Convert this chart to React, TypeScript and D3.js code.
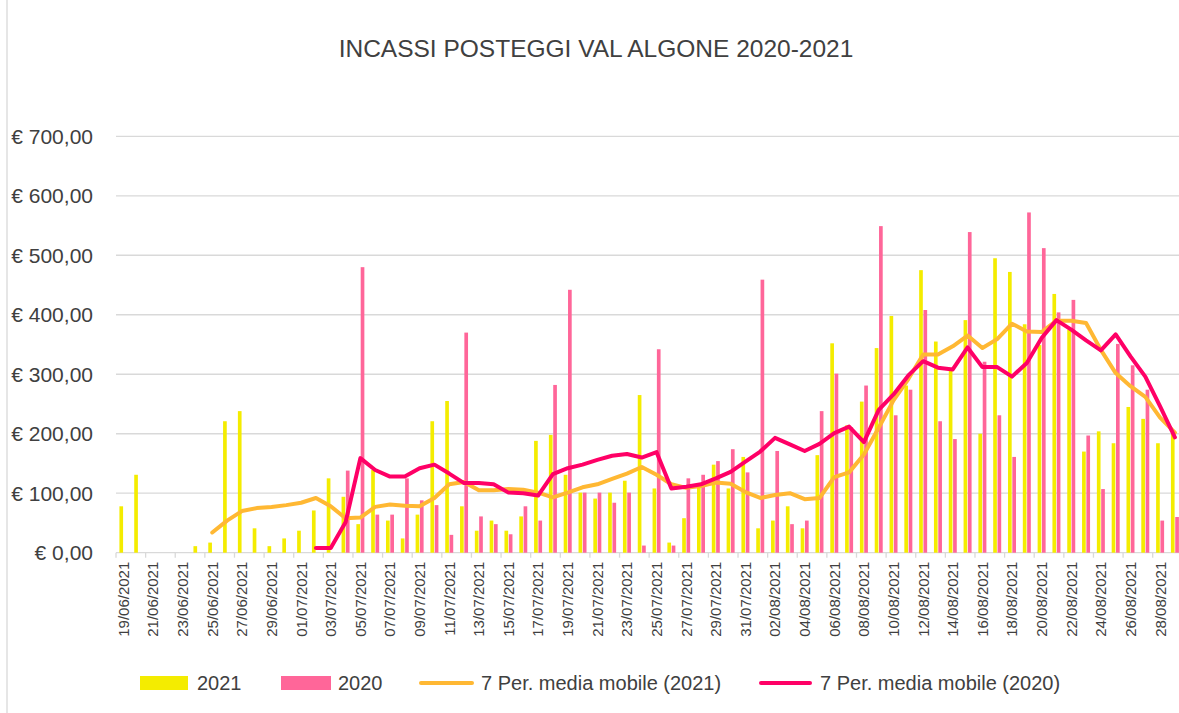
import React, { useEffect, useRef } from 'react';
import * as d3 from 'd3';

// giorni della stagione (asse categorie)
const giorni = [
  '19/06/2021', '20/06/2021', '21/06/2021', '22/06/2021', '23/06/2021', '24/06/2021',
  '25/06/2021', '26/06/2021', '27/06/2021', '28/06/2021', '29/06/2021', '30/06/2021',
  '01/07/2021', '02/07/2021', '03/07/2021', '04/07/2021', '05/07/2021', '06/07/2021',
  '07/07/2021', '08/07/2021', '09/07/2021', '10/07/2021', '11/07/2021', '12/07/2021',
  '13/07/2021', '14/07/2021', '15/07/2021', '16/07/2021', '17/07/2021', '18/07/2021',
  '19/07/2021', '20/07/2021', '21/07/2021', '22/07/2021', '23/07/2021', '24/07/2021',
  '25/07/2021', '26/07/2021', '27/07/2021', '28/07/2021', '29/07/2021', '30/07/2021',
  '31/07/2021', '01/08/2021', '02/08/2021', '03/08/2021', '04/08/2021', '05/08/2021',
  '06/08/2021', '07/08/2021', '08/08/2021', '09/08/2021', '10/08/2021', '11/08/2021',
  '12/08/2021', '13/08/2021', '14/08/2021', '15/08/2021', '16/08/2021', '17/08/2021',
  '18/08/2021', '19/08/2021', '20/08/2021', '21/08/2021', '22/08/2021', '23/08/2021',
  '24/08/2021', '25/08/2021', '26/08/2021', '27/08/2021', '28/08/2021', '29/08/2021'
];

const incassi2021 = [
  78, 131, null, null, null, 11, 17, 221, 238, 41,
  11, 24, 37, 71, 125, 94, 48, 139, 54, 24,
  64, 221, 255, 78, 37, 54, 37, 61, 188, 198,
  131, 101, 91, 101, 121, 265, 108, 17, 58, 111,
  148, 108, 161, 41, 54, 78, 41, 164, 352, 214,
  254, 344, 398, 281, 475, 355, 306, 391, 200, 495,
  472, 384, 349, 435, 375, 170, 204, 184, 245, 225,
  184, 204
];

const incassi2020 = [
  null, null, null, null, null, null, null, null, null, null,
  null, null, null, null, null, 138, 480, 64, 64, 125,
  88, 80, 30, 370, 61, 48, 31, 78, 54, 282,
  442, 101, 101, 84, 101, 12, 342, 12, 125, 131,
  154, 174, 135, 459, 171, 48, 54, 238, 301, 211,
  281, 549, 231, 274, 408, 221, 191, 539, 321, 231,
  161, 572, 512, 404, 425, 197, 107, 351, 315, 274,
  54, 60
];

// 7 Per. media mobile
const media2021 = [
  null, null, null, null, null, null, 34, 54, 70, 75,
  77, 80, 84, 92, 78, 58, 59, 77, 81, 79,
  78, 92, 115, 119, 105, 105, 107, 106, 101, 93,
  101, 110, 115, 124, 133, 144, 131, 115, 109, 112,
  118, 116, 102, 92, 97, 100, 90, 92, 127, 135,
  165, 210, 256, 292, 333, 333, 347, 365, 344, 359,
  385, 372, 371, 390, 390, 386, 341, 302, 280, 262,
  227, 202
];

const media2020 = [
  null, null, null, null, null, null, null, null, null, null,
  null, null, null, 8, 8, 51, 159, 139, 128, 128,
  142, 148, 133, 117, 117, 115, 101, 100, 96, 132,
  142, 148, 156, 163, 166, 160, 169, 108, 111, 115,
  125, 136, 153, 170, 193, 182, 171, 183, 201, 212,
  186, 240, 266, 298, 322, 311, 308, 345, 312, 312,
  296, 319, 361, 391, 375, 357, 340, 367, 330, 296,
  246, 194
];

const yTicks = [0, 100, 200, 300, 400, 500, 600, 700];

const W = 1179;
const H = 713;
const FONT = "'Liberation Sans', Arial, sans-serif";

const App = () => {
  const ref = useRef<SVGSVGElement>(null);

  useEffect(() => {
    document.body.style.margin = '0';
    const svg = d3.select(ref.current);
    svg.selectAll('*').remove();

    const left = 116;
    const step = 14.81;
    const x = d3.scaleBand()
      .domain(giorni)
      .range([left, left + giorni.length * step])
      .padding(0);
    const bw = x.bandwidth();

    const y = d3.scaleLinear()
      .domain([0, 700])
      .range([552.7, 136.3]);

    const serie = d3.scaleBand()
      .domain(['2021', '2020'])
      .range([bw / 2 - 4, bw / 2 + 4])
      .paddingInner(0.15);

    // bordo sinistro dell'area grafico
    svg.append('line')
      .attr('x1', 7).attr('x2', 7)
      .attr('y1', 0).attr('y2', H)
      .attr('stroke', '#d9d9d9')
      .attr('stroke-width', 1.3);

    svg.append('text')
      .attr('x', 596)
      .attr('y', 57)
      .attr('text-anchor', 'middle')
      .attr('font-family', FONT)
      .attr('font-size', 24.5)
      .attr('fill', '#404040')
      .text('INCASSI POSTEGGI VAL ALGONE 2020-2021');

    // griglia
    svg.append('g')
      .selectAll('line')
      .data(yTicks)
      .enter()
      .append('line')
      .attr('x1', left)
      .attr('x2', W)
      .attr('y1', d => y(d))
      .attr('y2', d => y(d))
      .attr('stroke', '#d9d9d9')
      .attr('stroke-width', 1.3);

    svg.append('g')
      .selectAll('text')
      .data(yTicks)
      .enter()
      .append('text')
      .attr('x', 93)
      .attr('y', d => y(d))
      .attr('dy', '0.36em')
      .attr('text-anchor', 'end')
      .attr('font-family', FONT)
      .attr('font-size', 21)
      .attr('fill', '#404040')
      .text(d => '€ ' + d3.format(',.2f')(d).replace('.', ','));

    // tacche asse x ogni 2 giorni
    const tacche = giorni.filter((_, i) => i % 2 === 0);
    svg.append('g')
      .selectAll('line')
      .data(tacche)
      .enter()
      .append('line')
      .attr('x1', d => x(d) as number)
      .attr('x2', d => x(d) as number)
      .attr('y1', y(0))
      .attr('y2', y(0) + 5)
      .attr('stroke', '#d9d9d9')
      .attr('stroke-width', 1.3);

    svg.append('g')
      .selectAll('text')
      .data(tacche)
      .enter()
      .append('text')
      .attr('transform', d => `translate(${(x(d) as number) + bw / 2},${y(0) + 9}) rotate(-90)`)
      .attr('dy', '0.36em')
      .attr('text-anchor', 'end')
      .attr('font-family', FONT)
      .attr('font-size', 15)
      .attr('fill', '#404040')
      .text(d => d);

    // barre
    const barre = [
      { key: '2021', values: incassi2021, color: '#f4ec00' },
      { key: '2020', values: incassi2020, color: '#ff6699' }
    ];
    barre.forEach(s => {
      svg.append('g')
        .selectAll('rect')
        .data(s.values.map((v, i) => ({ v, g: giorni[i] })).filter(d => d.v != null))
        .enter()
        .append('rect')
        .attr('x', d => (x(d.g) as number) + (serie(s.key) as number))
        .attr('y', d => y(d.v as number))
        .attr('width', serie.bandwidth())
        .attr('height', d => y(0) - y(d.v as number))
        .attr('fill', s.color);
    });

    // medie mobili
    const linea = d3.line<number | null>()
      .defined(d => d != null)
      .x((_, i) => (x(giorni[i]) as number) + bw / 2)
      .y(d => y(d as number));

    const medie = [
      { values: media2021, color: '#ffb833' },
      { values: media2020, color: '#ff0066' }
    ];
    medie.forEach(m => {
      svg.append('path')
        .datum(m.values)
        .attr('d', linea)
        .attr('fill', 'none')
        .attr('stroke', m.color)
        .attr('stroke-width', 4)
        .attr('stroke-linejoin', 'round')
        .attr('stroke-linecap', 'round');
    });

    // legenda
    const ly = 683;
    const leg = svg.append('g')
      .attr('font-family', FONT)
      .attr('font-size', 20)
      .attr('fill', '#404040');
    leg.append('rect').attr('x', 140).attr('y', ly - 7).attr('width', 48).attr('height', 14).attr('fill', '#f4ec00');
    leg.append('text').attr('x', 197).attr('y', ly).attr('dy', '0.36em').text('2021');
    leg.append('rect').attr('x', 281).attr('y', ly - 7).attr('width', 50).attr('height', 14).attr('fill', '#ff6699');
    leg.append('text').attr('x', 338).attr('y', ly).attr('dy', '0.36em').text('2020');
    leg.append('line').attr('x1', 421).attr('x2', 472).attr('y1', ly).attr('y2', ly)
      .attr('stroke', '#ffb833').attr('stroke-width', 4).attr('stroke-linecap', 'round');
    leg.append('text').attr('x', 481).attr('y', ly).attr('dy', '0.36em').text('7 Per. media mobile (2021)');
    leg.append('line').attr('x1', 761).attr('x2', 810).attr('y1', ly).attr('y2', ly)
      .attr('stroke', '#ff0066').attr('stroke-width', 4).attr('stroke-linecap', 'round');
    leg.append('text').attr('x', 820).attr('y', ly).attr('dy', '0.36em').text('7 Per. media mobile (2020)');
  }, []);

  return <svg ref={ref} width={W} height={H} style={{ display: 'block' }} />;
};

export default App;
